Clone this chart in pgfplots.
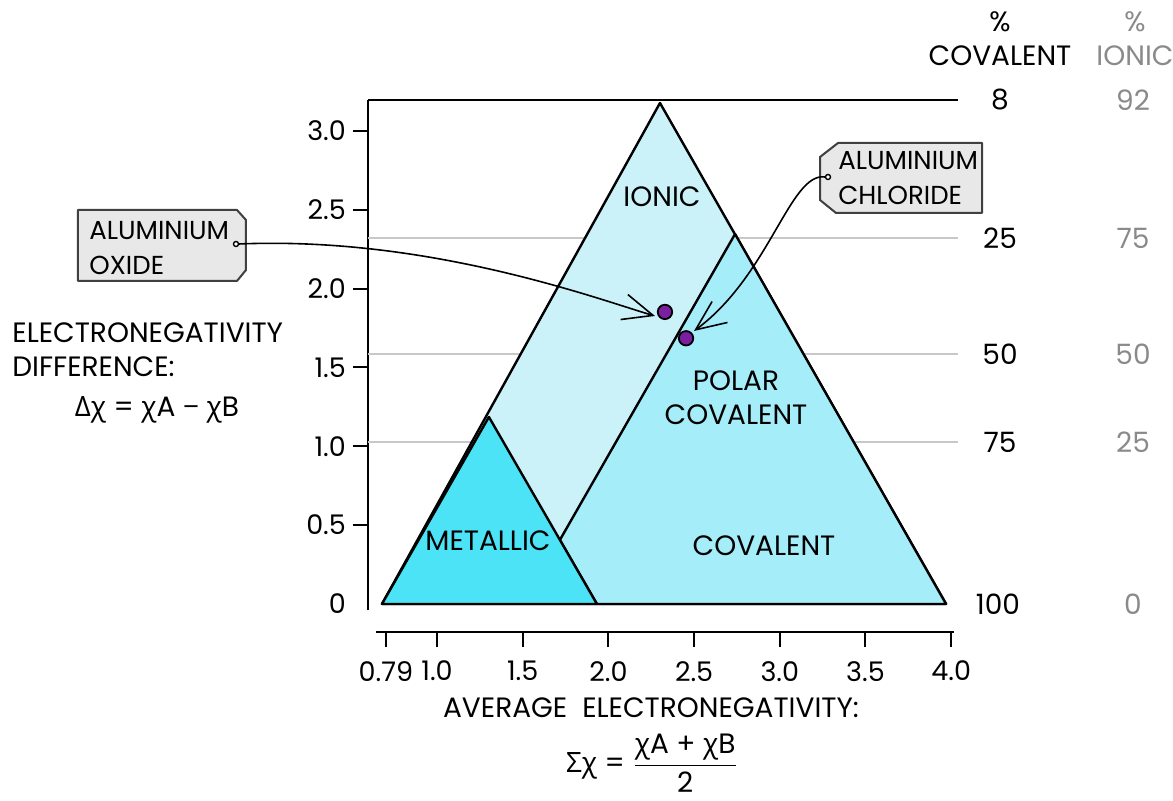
\documentclass[border=0pt]{standalone}
\usepackage{pgfplots}
\pgfplotsset{compat=1.18}
\usepackage{amsmath}
\usepackage{fontspec}
\setmainfont{Poppins}
\newfontfamily\grk{Open Sans}
\usetikzlibrary{arrows.meta}

\definecolor{ionic}{HTML}{CBF2F9}
\definecolor{polar}{HTML}{A6EDFA}
\definecolor{metal}{HTML}{4DE3F7}
\definecolor{dot}{HTML}{7B1FA0}
\definecolor{levelgrey}{HTML}{C8C8C8}
\definecolor{tagfill}{HTML}{E8E8E8}
\definecolor{ioncol}{HTML}{8A8A8A}
\newcommand\cx{{\grk χ}}

\begin{document}
\begin{tikzpicture}[font=\fontsize{14}{17}\selectfont]
\begin{axis}[
  x=85.7pt, y=78.85pt,
  xmin=0.597, xmax=4.04, ymin=-0.178, ymax=3.196,
  axis x line=bottom, axis y line=left,
  axis line style={draw=none},
  clip=false,
  tick align=outside,
  major tick length=7.5pt,
  tick style={black, line width=1pt},
  xtick={0.702,1,1.5,2,2.5,3,3.5,4},
  xticklabels={0.79,1.0,1.5,2.0,2.5,3.0,3.5,4.0},
  ytick={0.5,1,1.5,2,2.5,3},
  yticklabels={0.5,1.0,1.5,2.0,2.5,3.0},
  extra y ticks={0}, extra y tick labels={0},
  extra y tick style={tick style={draw=none}},
  /pgf/number format/assume math mode=true,
  ticklabel style={font=\fontsize{13.5}{16}\selectfont},
  xticklabel style={yshift=-3.5pt},
]
% axis lines
\draw[black, line width=1.1pt] (axis cs:0.644,-0.178) -- (axis cs:4.016,-0.178);
\draw[black, line width=1.1pt] (axis cs:0.597,-0.04) -- (axis cs:0.597,3.196);
% percent levels
\addplot[black, line width=1.1pt] coordinates {(0.597,3.196) (4.04,3.196)};
\addplot[levelgrey, line width=1pt] coordinates {(0.597,2.321) (4.04,2.321)};
\addplot[levelgrey, line width=1pt] coordinates {(0.597,1.585) (4.04,1.585)};
\addplot[levelgrey, line width=1pt] coordinates {(0.597,1.027) (4.04,1.027)};
% regions
\addplot[fill=ionic, draw=black, line width=1.2pt, line join=round]
  coordinates {(0.679,0) (2.301,3.177) (3.970,0)} -- cycle;
\addplot[fill=polar, draw=black, line width=1.2pt, line join=round]
  coordinates {(1.717,0.406) (2.739,2.346) (3.970,0) (1.933,0)} -- cycle;
\addplot[fill=metal, draw=black, line width=1.2pt, line join=round]
  coordinates {(0.679,0) (1.303,1.186) (1.933,0)} -- cycle;
% compounds
\addplot[only marks, mark=*, mark size=3.6pt,
  mark options={fill=dot, draw=black, line width=0.9pt}]
  coordinates {(2.330,1.852) (2.453,1.685)};
\coordinate (P0) at (axis cs:-1.54959,3.83006);
\end{axis}

\begin{scope}[shift={(P0)}, x=0.5pt, y=-0.5pt]
% region names
\node at (662,197) {IONIC};
\node[align=center] at (736,398) {POLAR\\COVALENT};
\node at (764,546) {COVALENT};
\node at (488,541) {METALLIC};
% left title
\node[anchor=west, inner sep=0pt] at (12,333) {ELECTRONEGATIVITY};
\node[anchor=west, inner sep=0pt] at (12,367) {DIFFERENCE:};
\node at (157,410) {{\grk Δ}\cx{} = \cx A {\grk −} \cx B};
% bottom title
\node at (651,708) {AVERAGE\ \ ELECTRONEGATIVITY:};
\node at (652,763) {{\grk Σ}\cx{} = $\dfrac{\text{\cx A + \cx B}}{\text{2}}$};
% right scale
\node at (1000,22) {\%};
\node at (1000,56) {COVALENT};
\node[ioncol] at (1135,22) {\%};
\node[ioncol] at (1135,56) {IONIC};
\node at (1000,100) {8};    \node[ioncol] at (1133,100) {92};
\node at (1000,238) {25};   \node[ioncol] at (1133,238) {75};
\node at (1000,354) {50};   \node[ioncol] at (1133,354) {50};
\node at (1000,442) {75};   \node[ioncol] at (1133,442) {25};
\node at (998,604) {100};   \node[ioncol] at (1133,604) {0};
% tags
\begin{scope}[font=\fontsize{13}{16}\selectfont]
\draw[fill=tagfill, draw=black!75, line width=1pt, line join=round]
  (78,210) -- (237,210) -- (246,220) -- (246,270) -- (237,281) -- (78,281) -- cycle;
\node[anchor=west, inner sep=0pt] at (89,231) {ALUMINIUM};
\node[anchor=west, inner sep=0pt] at (89,265) {OXIDE};
\draw[line width=0.7pt, fill=white] (236,244) circle (2.5);
\draw[fill=tagfill, draw=black!75, line width=1pt, line join=round]
  (838,143) -- (982,143) -- (982,213) -- (836,213) -- (820,200) -- (820,157) -- cycle;
\node[anchor=west, inner sep=0pt] at (838,161) {ALUMINIUM};
\node[anchor=west, inner sep=0pt] at (838,195) {CHLORIDE};
\draw[line width=0.7pt, fill=white] (828,177) circle (2.5);
\end{scope}
% arrows
\draw[line width=0.8pt, -{Straight Barb[length=15pt,width=13pt]}]
  (239,244) .. controls (430,236) and (600,300) .. (655,316);
\draw[line width=0.8pt, -{Straight Barb[length=15pt,width=13pt]}]
  (825,177) .. controls (790,172) and (770,275) .. (694,331);
\pgfresetboundingbox
\useasboundingbox (0,0) rectangle (1173,801);
\end{scope}
\end{tikzpicture}
\end{document}
